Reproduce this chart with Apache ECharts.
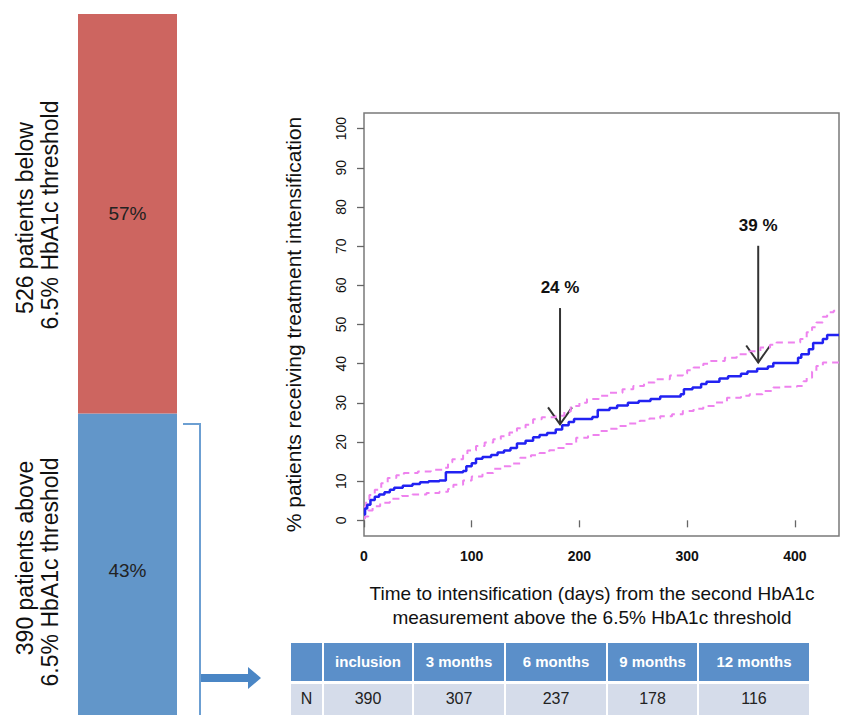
<!DOCTYPE html>
<html><head><meta charset="utf-8">
<script src="https://cdn.jsdelivr.net/npm/echarts@6/dist/echarts.min.js"></script>
<style>html,body{margin:0;padding:0;background:#fff}#c{width:846px;height:715px}</style>
</head><body><div id="c"></div>
<script>
// ---------- data ----------
const groupNames = ['above', 'below'];
const groupShares = [43, 57];
const groupLines1 = ['390 patients above', '526 patients below'];
const groupLines2 = ['6.5% HbA1c threshold', '6.5% HbA1c threshold'];

const kmDays = [0,1,3,6,10,14,19,24,28,36,45,52,60,70,76,92,95,100,104,110,118,124,130,136,142,150,157,163,170,178,184,190,195,212,217,228,235,245,255,266,275,294,297,305,313,318,330,338,350,356,365,375,380,403,406,413,417,426,430,441];
const kmPct  = [1.5,3,4,5.2,6,6.6,7.2,7.8,8.3,8.8,9.3,9.7,10,10.2,12.3,12.6,13.8,14.6,15.7,16.2,16.7,17.3,17.8,18.5,19.6,20.3,21.2,21.8,22.3,23.2,24.3,25.1,25.9,26.4,28.2,28.7,29.3,30,30.5,31,31.6,32.2,33.5,33.9,34.8,35.4,36.2,36.8,37.4,38,38.7,39.3,40.2,41.5,42.4,43.7,45.3,46.3,47.3,47.3];

const upDays = [0,2,5,10,16,22,30,37,50,62,73,78,82,92,96,104,112,120,127,135,142,150,157,165,178,186,192,200,207,218,228,240,250,260,270,284,296,300,306,315,322,335,346,358,368,377,383,405,411,416,420,426,430,436,441];
const upPct  = [3.5,5,6.5,7.8,9.5,10.8,11.5,12.1,12.5,12.9,13.4,14.8,15.6,16.8,17.8,19,19.9,20.7,21.5,22.4,23.5,24.4,25.8,26.3,26.7,27.8,29.2,30,31,31.8,32.6,33.5,34.3,35.2,36,37,37.5,38.3,39,40,40.7,41.5,42.4,43.2,44.1,44.8,45.4,46.3,48,49.3,50.5,52,53.1,53.5,53.5];

const loDays = [0,1,4,8,15,24,35,45,58,70,78,83,92,100,110,120,128,136,145,155,163,172,179,187,197,208,219,228,235,246,256,265,275,286,296,306,315,325,337,350,358,370,380,390,402,408,411,416,420,426,441];
const loPct  = [0.5,1,2.5,3.6,4.5,5.5,6.2,6.6,7,7.3,8,9.1,10.2,11.2,12.1,13.2,13.8,14.5,16,16.6,17.2,17.9,18.5,19.5,21.1,21.8,22.8,23.4,24.1,24.7,25.4,26,26.6,27.1,27.9,28.5,29.2,30.1,31.3,31.8,32.2,33,33.9,34.1,34.3,35.5,36.4,38,39.4,40.3,40.3];

const xTicks = [0,100,200,300,400];
const yTicks = [0,10,20,30,40,50,60,70,80,90,100];

const annDays   = [182, 366];
const annTips   = [24.5, 40.3];
const annTops   = [54.2, 70.1];
const annLabelY = [59.4, 75.2];
const annLabels = ['24 %', '39 %'];

const tableHeaders = ['', 'inclusion', '3 months', '6 months', '9 months', '12 months'];
const tableRowLabel = 'N';
const tableCounts = [390, 307, 237, 178, 116];

const yTitle = '% patients receiving treatment intensification';
const xTitle1 = 'Time to intensification (days) from the second HbA1c';
const xTitle2 = 'measurement above the 6.5% HbA1c threshold';

// ---------- chart ----------
const FONT = 'Liberation Sans, Arial, Helvetica, sans-serif';
const RED = '#CD6560', BLUE = '#6296C9';
const chart = echarts.init(document.getElementById('c'), null, {renderer: 'svg'});
const pairs = (d, v) => d.map((x, i) => [x, v[i]]);

const option = {
  backgroundColor: '#fff',
  animation: false,
  textStyle: {fontFamily: FONT},
  grid: [
    {left: 78, width: 99, top: 14, height: 707, show: false},
    {left: 364, top: 113, width: 475, height: 423, show: true, borderColor: '#7a7a7a', borderWidth: 1.5, backgroundColor: 'transparent'}
  ],
  xAxis: [
    {gridIndex: 0, type: 'category', data: ['all'], show: false},
    {gridIndex: 1, type: 'value', min: 0, max: 441,
     axisLine: {show: false}, splitLine: {show: false},
     axisTick: {show: true, length: 7, lineStyle: {color: '#666', width: 1.3}, customValues: xTicks},
     axisLabel: {customValues: xTicks, margin: 13, fontSize: 14, fontWeight: 'bold', color: '#111', fontFamily: FONT}}
  ],
  yAxis: [
    {gridIndex: 0, type: 'value', min: 0, max: 100, show: false},
    {gridIndex: 1, type: 'value', min: -4, max: 104,
     axisLine: {show: false}, splitLine: {show: false},
     axisTick: {show: true, length: 7, lineStyle: {color: '#666', width: 1.3}, customValues: yTicks},
     axisLabel: {customValues: yTicks, rotate: 90, margin: 16, fontSize: 14, color: '#111', fontFamily: FONT},
     name: yTitle, nameLocation: 'middle', nameRotate: 90, nameGap: 60,
     nameTextStyle: {fontSize: 21, color: '#111', fontFamily: FONT}}
  ],
  series: [
    {type: 'bar', xAxisIndex: 0, yAxisIndex: 0, stack: 'g', barWidth: '100%', name: groupNames[0],
     data: [groupShares[0]], itemStyle: {color: BLUE},
     label: {show: true, position: 'inside', formatter: '{c}%', fontSize: 19, color: '#222', offset: [0, 6], fontFamily: FONT}},
    {type: 'bar', xAxisIndex: 0, yAxisIndex: 0, stack: 'g', barWidth: '100%', name: groupNames[1],
     data: [groupShares[1]], itemStyle: {color: RED},
     label: {show: true, position: 'inside', formatter: '{c}%', fontSize: 19, color: '#222', fontFamily: FONT}},
    {type: 'line', xAxisIndex: 1, yAxisIndex: 1, step: 'end', symbol: 'none', data: pairs(upDays, upPct),
     lineStyle: {color: '#EE82EE', width: 2, type: [7, 5]}},
    {type: 'line', xAxisIndex: 1, yAxisIndex: 1, step: 'end', symbol: 'none', data: pairs(loDays, loPct),
     lineStyle: {color: '#EE82EE', width: 2, type: [7, 5]}},
    {type: 'line', xAxisIndex: 1, yAxisIndex: 1, step: 'end', symbol: 'none', data: pairs(kmDays, kmPct),
     lineStyle: {color: '#2222F2', width: 2.5}}
  ]
};
chart.setOption(option);

// ---------- annotations & decorations ----------
const g = [];
const toPx = (x, y) => chart.convertToPixel({gridIndex: 1}, [x, y]);
annDays.forEach((d, i) => {
  const top = toPx(d, annTops[i]), tip = toPx(d, annTips[i]), lab = toPx(d, annLabelY[i]);
  g.push({type: 'line', shape: {x1: top[0], y1: top[1], x2: tip[0], y2: tip[1]}, style: {stroke: '#333', lineWidth: 2}});
  g.push({type: 'polyline', shape: {points: [[tip[0] - 12, tip[1] - 17], [tip[0], tip[1]], [tip[0] + 12, tip[1] - 17]]}, style: {stroke: '#333', lineWidth: 2, fill: null}});
  g.push({type: 'text', x: lab[0], y: lab[1], style: {text: annLabels[i], fill: '#111', font: 'bold 17px ' + FONT, align: 'center', verticalAlign: 'middle'}});
});

// x title
g.push({type: 'text', x: 592, y: 593, style: {text: xTitle1, fill: '#111', font: '19px ' + FONT, align: 'center', verticalAlign: 'middle'}});
g.push({type: 'text', x: 592, y: 617, style: {text: xTitle2, fill: '#111', font: '19px ' + FONT, align: 'center', verticalAlign: 'middle'}});

// rotated group labels (left)
const groupCenters = [[25, 558, 50, 572], [25, 218, 50, 215]];
[0, 1].forEach(i => {
  const c = groupCenters[i];
  g.push({type: 'text', x: c[0], y: c[1], rotation: Math.PI / 2, style: {text: groupLines1[i], fill: '#111', font: '23px ' + FONT, align: 'center', verticalAlign: 'middle'}});
  g.push({type: 'text', x: c[2], y: c[3], rotation: Math.PI / 2, style: {text: groupLines2[i], fill: '#111', font: '23px ' + FONT, align: 'center', verticalAlign: 'middle'}});
});

// bracket and arrow
g.push({type: 'polyline', shape: {points: [[183, 424], [200, 424], [200, 716]]}, style: {stroke: '#6C9FD2', lineWidth: 2, fill: null}});
g.push({type: 'polygon', shape: {points: [[201, 674], [248, 674], [248, 667], [261, 678], [248, 689], [248, 682], [201, 682]]}, style: {fill: '#4A86C5'}});

// table
const colEdges = [290, 323, 413, 505, 607, 698, 810];
const hy = 643, hh = 38, ry = 684, rh = 34;
for (let i = 0; i < 6; i++) {
  const x0 = colEdges[i] + 1, w = colEdges[i + 1] - colEdges[i] - 2;
  g.push({type: 'rect', shape: {x: x0, y: hy, width: w, height: hh}, style: {fill: '#5B8FC9'}});
  g.push({type: 'rect', shape: {x: x0, y: ry, width: w, height: rh}, style: {fill: '#D5DCEA'}});
  const cx = (colEdges[i] + colEdges[i + 1]) / 2;
  if (tableHeaders[i]) g.push({type: 'text', x: cx, y: hy + hh / 2 - 1, style: {text: tableHeaders[i], fill: '#fff', font: 'bold 15px ' + FONT, align: 'center', verticalAlign: 'middle'}});
  const cell = i === 0 ? tableRowLabel : String(tableCounts[i - 1]);
  g.push({type: 'text', x: cx, y: ry + 14, style: {text: cell, fill: '#222', font: '16px ' + FONT, align: 'center', verticalAlign: 'middle'}});
}

chart.setOption({graphic: g});
</script></body></html>
